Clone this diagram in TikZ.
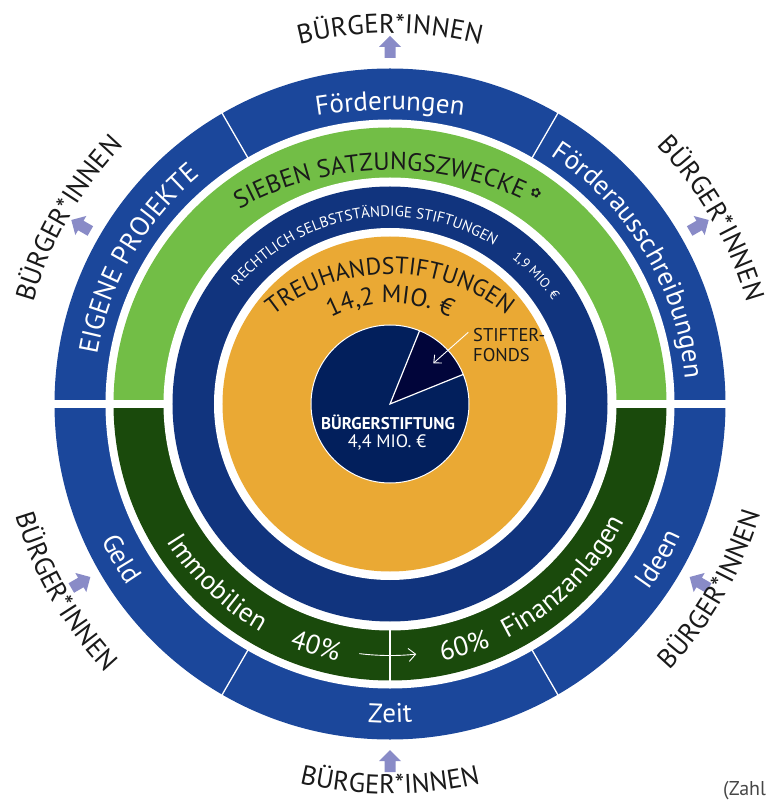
\documentclass[tikz,border=0pt]{standalone}
\usepackage{fontspec}
\setmainfont{PT Sans}
\newfontfamily\ornamentfont{DejaVu Sans}
\usetikzlibrary{decorations.text,arrows.meta}

% palette
\definecolor{bandblue}{RGB}{27,71,155}
\definecolor{zweckgreen}{RGB}{114,190,70}
\definecolor{anlagegreen}{RGB}{26,74,12}
\definecolor{stiftblue}{RGB}{17,52,126}
\definecolor{treuorange}{RGB}{234,169,52}
\definecolor{piebase}{RGB}{2,31,92}
\definecolor{pieslice}{RGB}{1,5,58}
\definecolor{flowarrow}{RGB}{137,139,199}
\definecolor{inktext}{RGB}{26,26,26}
\definecolor{notegray}{RGB}{70,70,70}

% font sizes (1pt = 1px of the final picture)
\newcommand\fsBand{\fontsize{27pt}{30pt}\selectfont}
\newcommand\fsPeople{\fontsize{27pt}{30pt}\selectfont}
\newcommand\fsZweck{\fontsize{25pt}{30pt}\selectfont}
\newcommand\fsTreu{\fontsize{24pt}{28pt}\selectfont}
\newcommand\fsSum{\fontsize{25pt}{30pt}\selectfont}
\newcommand\fsRecht{\fontsize{15pt}{18pt}\selectfont}
\newcommand\fsRechtSum{\fontsize{13.5pt}{16pt}\selectfont}
\newcommand\fsPieBold{\fontsize{17pt}{20pt}\selectfont\bfseries}
\newcommand\fsPie{\fontsize{18pt}{20pt}\selectfont}
\newcommand\fsFonds{\fontsize{18.5pt}{22pt}\selectfont}
\newcommand\fsNote{\fontsize{20pt}{22pt}\selectfont}

\tikzset{
  arctext/.style n args={3}{decorate,
    decoration={text along path, text align=center, text color=#1, text={|#2|#3}}},
  sepline/.style={white, line width=1.3pt},
  flowline/.style={white, line width=0.9pt, -{Straight Barb[length=7pt,width=13pt]}},
  sharelabel/.style={anchor=base, text=white, font=\fsBand, inner sep=0},
  citizenarrow/.pic={\fill[flowarrow] (-5.5,-11) -- (5.5,-11) -- (5.5,0) -- (11,0)
      -- (0,11) -- (-11,0) -- (-5.5,0) -- cycle;},
}

\begin{document}
\begin{tikzpicture}[x=1pt,y=1pt]
\useasboundingbox (-390,-396) rectangle (378,404);

% outer band
\fill[bandblue] (0,0) circle[radius=335.5];
\fill[white] (0,0) circle[radius=284.5];
% purpose band (top) and investment band (bottom)
\fill[zweckgreen] (276.5,0) arc[start angle=0, end angle=180, radius=276.5] -- cycle;
\fill[anlagegreen] (-276.5,0) arc[start angle=180, end angle=360, radius=276.5] -- cycle;
\fill[white] (0,0) circle[radius=226.5];
\fill[white] (-340,-3.7) rectangle (340,3.9);
% segment dividers
\foreach \a in {60,120,240,300} \draw[sepline] (\a:284) -- (\a:336);
\draw[sepline] (270:226) -- (270:277);

% foundations ring and trust core
\fill[stiftblue] (0,0) circle[radius=217.5];
\fill[white] (0,0) circle[radius=176];
\fill[treuorange] (0,0) circle[radius=167.5];

% pie
\fill[piebase] (0,0) circle[radius=79];
\fill[pieslice] (0,0) -- (22:79) arc[start angle=22, end angle=68, radius=79] -- cycle;
\draw[white, line width=1pt] (0,0) circle[radius=79];
\draw[white, line width=1.2pt] (22:79) -- (0,0) -- (68:79);

% outer band labels
\path[shift={(0,-176)}, arctext={white}{\fsBand}{Förderungen}] (104:470) arc[start angle=104, end angle=76, radius=470];
\path[arctext={white}{\fsBand}{EIGENE PROJEKTE}] (178:297) arc[start angle=178, end angle=122, radius=297];
\path[arctext={white}{\fsBand}{Förderausschreibungen}] (61:296) arc[start angle=61, end angle=1, radius=296];
\path[arctext={white}{\fsBand}{Geld}] (190:319) arc[start angle=190, end angle=230, radius=319];
\path[arctext={white}{\fsBand}{Zeit}] (250:319) arc[start angle=250, end angle=290, radius=319];
\path[arctext={white}{\fsBand}{Ideen}] (310:319) arc[start angle=310, end angle=350, radius=319];

% green band labels
\path[shift={(0,-74)}, arctext={inktext}{\fsZweck}{SIEBEN SATZUNGSZWECKE}] (136:308) arc[start angle=136, end angle=48, radius=308];
\node[rotate=-27, text=inktext, font=\ornamentfont\fontsize{13pt}{15pt}\selectfont, inner sep=0] (flower) at (146,211) {✿};
\path[arctext={white}{\fsBand}{Immobilien}] (201:262) arc[start angle=201, end angle=251, radius=262];
\node[sharelabel, rotate=-17] (shareA) at (253:262) {40\%};
\node[sharelabel, rotate=17] (shareB) at (287:262) {60\%};
\path[arctext={white}{\fsBand}{Finanzanlagen}] (290:262) arc[start angle=290, end angle=340, radius=262];
\draw[flowline] (263:251.5) arc[start angle=263, end angle=276, radius=251.5];

% foundations ring labels
\path[shift={(0,-12.7)}, arctext={white}{\fsRecht}{RECHTLICH SELBSTSTÄNDIGE STIFTUNGEN}] (171:200) arc[start angle=171, end angle=27, radius=200];
\path[shift={(0,-12.7)}, arctext={white}{\fsRechtSum}{1,9 MIO. €}] (64:200) arc[start angle=64, end angle=24, radius=200];

% trust core labels
\path[shift={(0,-56)}, arctext={inktext}{\fsTreu}{TREUHANDSTIFTUNGEN}] (150:186) arc[start angle=150, end angle=30, radius=186];
\path[shift={(0,-26)}, arctext={inktext}{\fsSum}{14,2 MIO. €}] (150:127) arc[start angle=150, end angle=30, radius=127];

% pie labels
\node[anchor=base, text=white, font=\fsPieBold, inner sep=0] (stiftung) at (-2,-25) {BÜRGERSTIFTUNG};
\node[anchor=base, text=white, font=\fsPie, inner sep=0] (stiftungsumme) at (-3,-43) {4,4 MIO. €};
\node[anchor=base west, text=inktext, font=\fsFonds, inner sep=0] (fondsA) at (83,62) {STIFTER-};
\node[anchor=base west, text=inktext, font=\fsFonds, inner sep=0] (fondsB) at (83,42) {FONDS};
\coordinate (fondsTail) at (78.3,71.7);
\coordinate (fondsTip) at (43.3,40.7);
\draw[white, line width=0.9pt, -{Straight Barb[length=6pt,width=11pt]}] (fondsTail) -- (fondsTip);

% citizens around the circle: arrows out of the top half, into the bottom half
\foreach \a in {90,150,30} {
  \pic[rotate=\a-90] at (\a:357) {citizenarrow};
  \path[arctext={inktext}{\fsPeople}{BÜRGER*INNEN}] (\a+20:371) arc[start angle=\a+20, end angle=\a-20, radius=371];
}
\foreach \a/\r in {210/391,270/390,330/386} {
  \pic[rotate=\a+90] at (\a:357) {citizenarrow};
  \path[arctext={inktext}{\fsPeople}{BÜRGER*INNEN}] (\a-20:\r) arc[start angle=\a-20, end angle=\a+20, radius=\r];
}

\node[anchor=base west, text=notegray, font=\fsNote, inner sep=0] (note) at (333,-391) {(Zahl};
\end{tikzpicture}
\end{document}
